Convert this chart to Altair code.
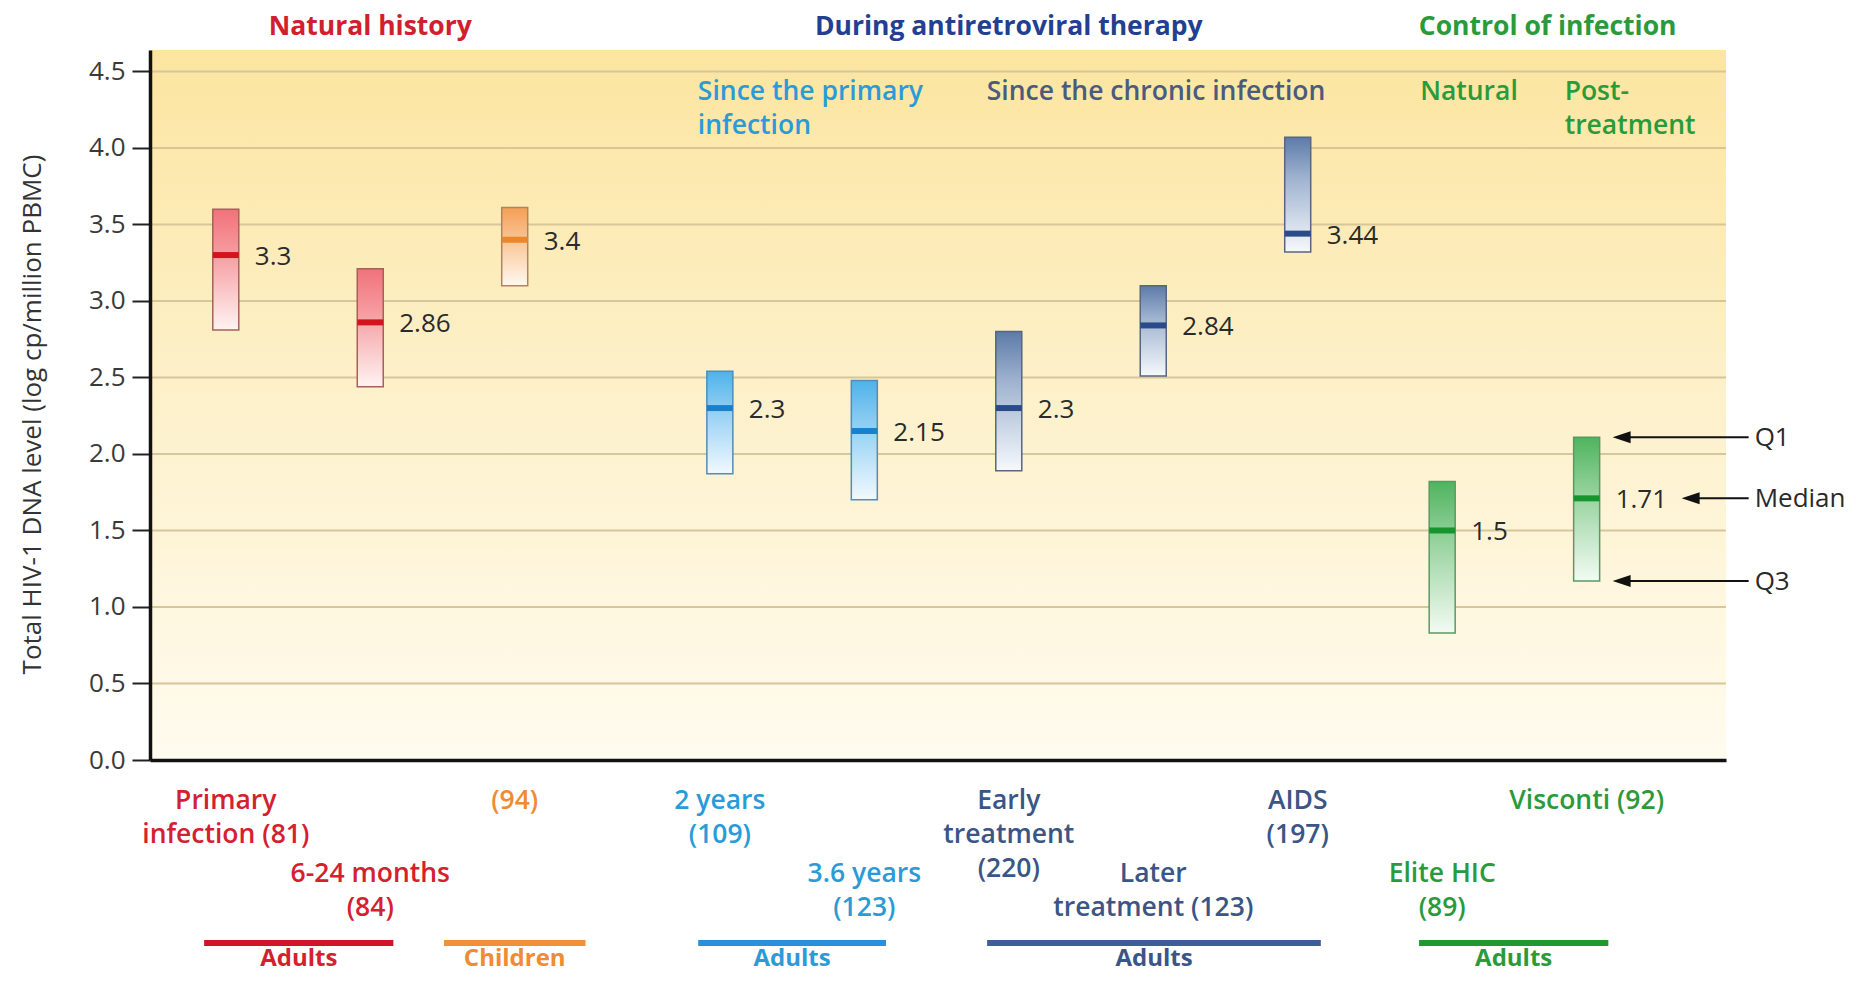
import altair as alt
import pandas as pd

# ---------------- data ----------------
categories = ["Primary infection (81)", "6-24 months (84)", "Children (94)", "2 years (109)",
              "3.6 years (123)", "Early treatment (220)", "Later treatment (123)", "AIDS (197)",
              "Elite HIC (89)", "Visconti (92)"]
category_labels = ["Primary\ninfection (81)", "6-24 months\n(84)", "(94)", "2 years\n(109)",
                   "3.6 years\n(123)", "Early\ntreatment\n(220)", "Later\ntreatment (123)",
                   "AIDS\n(197)", "Elite HIC\n(89)", "Visconti (92)"]
slots = [1, 2, 3, 4.42, 5.42, 6.42, 7.42, 8.42, 9.42, 10.42]
q1_values = [3.60, 3.21, 3.61, 2.54, 2.48, 2.80, 3.10, 4.07, 1.82, 2.11]
median_values = [3.30, 2.86, 3.40, 2.30, 2.15, 2.30, 2.84, 3.44, 1.50, 1.71]
q3_values = [2.81, 2.44, 3.10, 1.87, 1.70, 1.89, 2.51, 3.32, 0.83, 1.17]
median_labels = ["3.3", "2.86", "3.4", "2.3", "2.15", "2.3", "2.84", "3.44", "1.5", "1.71"]
cohort_keys = ["red", "red", "orange", "sky", "sky", "slate", "slate", "slate", "green", "green"]
label_rows = [0, 1, 0, 0, 1, 0, 1, 0, 1, 0]

population_labels = ["Adults", "Children", "Adults", "Adults", "Adults"]
population_keys = ["red", "orange", "sky", "slate", "green"]
population_start = [0.85, 2.51, 4.27, 6.27, 9.26]
population_end = [2.16, 3.49, 5.57, 8.58, 10.57]

section_titles = ["Natural history", "During antiretroviral therapy", "Control of infection"]
section_centers = [2.0, 6.42, 10.15]
section_keys = ["title_red", "title_blue", "title_green"]

subsection_titles = ["Since the primary\ninfection", "Since the chronic infection", "Natural", "Post-\ntreatment"]
subsection_slots = [4.42, 6.42, 9.42, 10.42]
subsection_keys = ["sky", "slate_gray", "green", "green"]

y_ticks = [0.0, 0.5, 1.0, 1.5, 2.0, 2.5, 3.0, 3.5, 4.0, 4.5]
key_labels = ["Q1", "Median", "Q3"]
key_values = [q1_values[-1], median_values[-1], q3_values[-1]]
key_slot = slots[-1]

# ---------------- style ----------------
FONT = "Open Sans"
TEXT_COLOR = {"red": "#d4202f", "orange": "#ef8b33", "sky": "#2b9bd8", "slate": "#3a5586",
              "green": "#2a9a3b", "slate_gray": "#4a5b7c", "title_red": "#d0202e",
              "title_blue": "#233f92", "title_green": "#2a9a3b"}
MEDIAN_COLOR = {"red": "#d3141f", "orange": "#ea862c", "sky": "#1a80cc", "slate": "#2a4b8a", "green": "#17942e"}
BAR_COLOR = {"red": "#d0142a", "orange": "#f0913a", "sky": "#2a8fdc", "slate": "#3f5e98", "green": "#1f982f"}
BOX_STROKE = {"red": "#a8605a", "orange": "#b08462", "sky": "#4f8dba", "slate": "#56677f", "green": "#5a9a62"}
BOX_GRAD = {
    "red": ["#f1727a", "#f59a9e", "#fff3f2"],
    "orange": ["#f59f55", "#f8bf8a", "#fff8ef"],
    "sky": ["#4fb2ea", "#8ccdf2", "#f1f9ff"],
    "slate": ["#5d7aa8", "#9eb2cf", "#f6f8fc"],
    "green": ["#4fb45e", "#8fcf97", "#f3fbf3"],
}
BOX_W = 26
LINE_H = 34
LABEL_FS = 26.5
VALUE_FS = 26

xscale = alt.Scale(domain=[0.51, 11.35], nice=False, zero=False)
yscale = alt.Scale(domain=[0, 4.64], nice=False, zero=False)
xaxis = alt.Axis(labels=False, ticks=False, grid=False, title="", domainColor="#111111",
                 domainWidth=3.5, zindex=1)
yaxis = alt.Axis(values=y_ticks, format=".1f", title="Total HIV-1 DNA level (log cp/million PBMC)",
                 titleX=-118, titleY=364, titleAngle=-90, titleAlign="center", titleBaseline="middle",
                 titleFontSize=26, titleFontWeight="normal", titleColor="#333333",
                 labelFontSize=26, labelColor="#3a3a3a", labelPadding=7, tickSize=18, tickWidth=2,
                 tickColor="#222222", domainColor="#111111", domainWidth=3.5, grid=False, zindex=1)


def X(field):
    return alt.X(field, type="quantitative", scale=xscale, axis=xaxis)


def Y(field):
    return alt.Y(field, type="quantitative", scale=yscale, axis=yaxis)


def grad(colors):
    return alt.LinearGradient(gradient="linear", x1=0, x2=0, y1=0, y2=1,
                              stops=[alt.GradientStop(color=colors[0], offset=0),
                                     alt.GradientStop(color=colors[1], offset=0.35),
                                     alt.GradientStop(color=colors[2], offset=1)])


box_df = pd.DataFrame({"category": categories, "label": category_labels, "slot": slots,
                       "q1": q1_values, "median": median_values, "q3": q3_values,
                       "median_label": median_labels, "key": cohort_keys, "row": label_rows})
box_df["text_color"] = box_df["key"].map(TEXT_COLOR)
box_df["median_color"] = box_df["key"].map(MEDIAN_COLOR)

pop_df = pd.DataFrame({"label": population_labels, "key": population_keys,
                       "start": population_start, "end": population_end})
pop_df["mid"] = (pop_df["start"] + pop_df["end"]) / 2
pop_df["bar_color"] = pop_df["key"].map(BAR_COLOR)
pop_df["text_color"] = pop_df["key"].map(TEXT_COLOR)

sec_df = pd.DataFrame({"title": section_titles, "center": section_centers, "key": section_keys})
sec_df["color"] = sec_df["key"].map(TEXT_COLOR)

sub_df = pd.DataFrame({"title": subsection_titles, "slot": subsection_slots, "key": subsection_keys})
sub_df["color"] = sub_df["key"].map(TEXT_COLOR)

key_df = pd.DataFrame({"label": key_labels, "value": key_values, "slot": [key_slot] * 3})
grid_df = pd.DataFrame({"y": [v for v in y_ticks if v > 0]})

layers = []

# background gradient of the plot area
bg = alt.Chart(alt.Data(values=[{"bg": 1}])).mark_rect(
    color=alt.LinearGradient(gradient="linear", x1=0, x2=0, y1=0, y2=1,
                             stops=[alt.GradientStop(color="#fce5a0", offset=0),
                                    alt.GradientStop(color="#fdf0c8", offset=0.45),
                                    alt.GradientStop(color="#fffbee", offset=1)])
).encode(x=alt.value(0), x2=alt.value("width"), y=alt.value(0), y2=alt.value("height"))
layers.append(bg)

grid = alt.Chart(grid_df).mark_rule(color="#d6c69a", strokeWidth=2).encode(
    y=Y("y"), x=alt.value(0), x2=alt.value("width"))
layers.append(grid)

for k in ["red", "orange", "sky", "slate", "green"]:
    layers.append(
        alt.Chart(box_df).transform_filter(alt.datum.key == k).mark_bar(
            size=BOX_W, color=grad(BOX_GRAD[k]), stroke=BOX_STROKE[k], strokeWidth=1.5
        ).encode(x=X("slot"), y=Y("q3"), y2="q1")
    )

medians = alt.Chart(box_df).mark_rule(strokeWidth=6, xOffset=-BOX_W / 2, x2Offset=BOX_W / 2).encode(
    x=X("slot"), x2="slot", y=Y("median"), color=alt.Color("median_color:N", scale=None))
layers.append(medians)

value_labels = alt.Chart(box_df).mark_text(align="left", baseline="middle", dx=29, dy=2,
                                           fontSize=VALUE_FS, color="#2a2a2a").encode(
    x=X("slot"), y=Y("median"), text="median_label:N")
layers.append(value_labels)

for r, ypix in [(0, 738), (1, 811)]:
    layers.append(
        alt.Chart(box_df).transform_filter(alt.datum.row == r).mark_text(
            align="center", baseline="top", lineBreak="\n", lineHeight=LINE_H, fontSize=LABEL_FS,
            fontWeight=600).encode(
            x=X("slot"), y=alt.value(ypix), text="label:N",
            color=alt.Color("text_color:N", scale=None))
    )

pop_bars = alt.Chart(pop_df).mark_rule(strokeWidth=6).encode(
    x=X("start"), x2="end", y=alt.value(893), color=alt.Color("bar_color:N", scale=None))
layers.append(pop_bars)

pop_text = alt.Chart(pop_df).mark_text(align="center", baseline="alphabetic", fontSize=24,
                                       fontWeight="bold").encode(
    x=X("mid"), y=alt.value(916), text="label:N", color=alt.Color("text_color:N", scale=None))
layers.append(pop_text)

sec_text = alt.Chart(sec_df).mark_text(align="center", baseline="middle", fontSize=26.5,
                                       fontWeight="bold").encode(
    x=X("center"), y=alt.value(-23), text="title:N", color=alt.Color("color:N", scale=None))
layers.append(sec_text)

sub_text = alt.Chart(sub_df).mark_text(align="left", baseline="top", dx=-22, lineBreak="\n",
                                       lineHeight=LINE_H, fontSize=LABEL_FS, fontWeight=600).encode(
    x=X("slot"), y=alt.value(29), text="title:N", color=alt.Color("color:N", scale=None))
layers.append(sub_text)

# Q1 / Median / Q3 key arrows
ARROW = "M-1,0L1,-0.667L1,0.667Z"
for sel, tip in [(alt.datum.label != "Median", 26), (alt.datum.label == "Median", 95)]:
    layers.append(
        alt.Chart(key_df).transform_filter(sel).mark_rule(
            color="#111111", strokeWidth=2, xOffset=tip + 10, x2Offset=162).encode(
            x=X("slot"), x2="slot", y=Y("value"))
    )
    layers.append(
        alt.Chart(key_df).transform_filter(sel).mark_point(
            shape=ARROW, filled=True, size=324, color="#111111", opacity=1, xOffset=tip + 9).encode(
            x=X("slot"), y=Y("value"))
    )

key_text = alt.Chart(key_df).mark_text(align="left", baseline="middle", dx=168, dy=1, fontSize=VALUE_FS,
                                       color="#2a2a2a").encode(
    x=X("slot"), y=Y("value"), text="label:N")
layers.append(key_text)

chart = alt.layer(*layers).properties(
    width=1576, height=710,
    autosize=alt.AutoSizeParams(type="none"),
    padding={"left": 142, "top": 42, "right": 122, "bottom": 214},
).configure(font=FONT).configure_view(stroke=None)

chart.save("out.html", embed_options={"renderer": "svg", "actions": False})
